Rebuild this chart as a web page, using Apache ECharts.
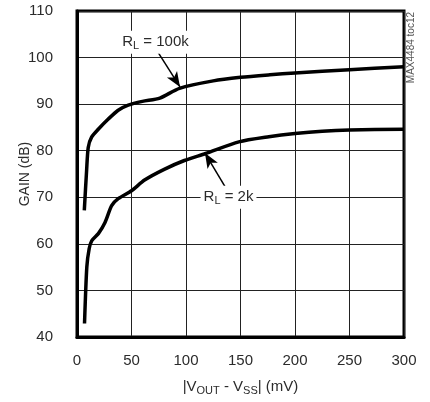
<!DOCTYPE html>
<html>
<head>
<meta charset="utf-8">
<script src="https://cdn.jsdelivr.net/npm/echarts@6/dist/echarts.min.js"></script>
<style>
  html, body { margin: 0; padding: 0; background: #fff; }
  #chart { width: 430px; height: 402px; }
</style>
</head>
<body>
<div id="chart"></div>
<script>
// Gain vs. output headroom, two load resistances
const rl100kX = [6.7, 8.8, 10.3, 13.4, 19.5, 28.7, 37.8, 47, 60, 76, 94, 125, 150, 177, 200, 250, 300];
const rl100kY = [67.2, 75.7, 80.7, 82.9, 84.6, 86.8, 88.7, 89.8, 90.6, 91.3, 93.4, 95.0, 95.75, 96.3, 96.7, 97.4, 98.05];

const rl2kX = [6.9, 9, 11.2, 13.6, 19.6, 25.7, 31.8, 37.8, 50, 62, 80, 98.5, 118, 148.5, 176, 200, 225, 250, 300];
const rl2kY = [42.9, 55.0, 59.0, 60.7, 62.2, 64.6, 68.2, 69.7, 71.4, 73.7, 76.0, 77.9, 79.4, 81.9, 83.0, 83.7, 84.2, 84.45, 84.6];

const xTicks = [0, 50, 100, 150, 200, 250, 300];
const yTicks = [40, 50, 60, 70, 80, 90, 100, 110];

// Callout positions (data units): label centre, arrow tail, arrow tip
const label100k = [72, 103.3];
const arrow100k = [[72.5, 101.8], [94.5, 93.7]];
const label2k = [139, 70];
const arrow2k = [[137.6, 71.6], [117.4, 79.5]];

const FONT = "'Liberation Sans', Arial, 'DejaVu Sans', sans-serif";
const TXT = '#2b2b2b';

function zip(xs, ys) { return xs.map((x, i) => [x, ys[i]]); }

function ts(size, extra) {
  return Object.assign({ fontFamily: FONT, fontSize: size, color: TXT }, extra || {});
}

const subRich = {
  n: ts(15),
  s: ts(11, { padding: [8, 0, 0, 0] })
};

const chart = echarts.init(document.getElementById('chart'), null, { renderer: 'canvas' });

chart.setOption({
  animation: false,
  backgroundColor: '#fff',
  textStyle: { fontFamily: FONT },
  grid: {
    left: 77, right: 26, top: 11, bottom: 65,
    show: true, borderColor: '#000', borderWidth: 3, backgroundColor: 'transparent'
  },
  xAxis: {
    type: 'value', min: xTicks[0], max: xTicks[xTicks.length - 1], interval: 50,
    axisLine: { show: true, lineStyle: { color: '#000', width: 3 } },
    axisTick: { show: false },
    axisLabel: Object.assign(ts(15), { margin: 16 }),
    splitLine: { show: true, lineStyle: { color: '#222', width: 1 } },
    name: '|V{s|OUT} - V{s|SS}| (mV)',
    nameLocation: 'middle', nameGap: 40, nameMoveOverlap: false,
    nameTextStyle: ts(15, {
      rich: { s: ts(11, { padding: [8, 0, 0, 0] }) }
    })
  },
  yAxis: {
    type: 'value', min: yTicks[0], max: yTicks[yTicks.length - 1], interval: 10,
    axisLine: { show: true, lineStyle: { color: '#000', width: 3 } },
    axisTick: { show: false },
    axisLabel: Object.assign(ts(15), { margin: 24 }),
    splitLine: { show: true, lineStyle: { color: '#222', width: 1 } },
    name: 'GAIN (dB)',
    nameLocation: 'middle', nameGap: 45, nameMoveOverlap: false,
    nameTextStyle: ts(14)
  },
  graphic: [{
    type: 'text',
    rotation: Math.PI / 2,
    x: 406, y: 12,
    style: {
      text: 'MAX4484 toc12',
      font: '10px ' + FONT,
      fill: '#555',
      textAlign: 'right',
      textVerticalAlign: 'top'
    }
  }],
  series: [
    {
      name: 'RL = 100k', type: 'line', data: zip(rl100kX, rl100kY),
      smooth: 0.25, showSymbol: false,
      lineStyle: { color: '#000', width: 3.5 },
      markLine: {
        silent: true, symbol: ['none', 'arrow'], symbolSize: [9, 15],
        lineStyle: { color: '#000', width: 1.5, type: 'solid' },
        label: { show: false },
        data: [[{ coord: arrow100k[0] }, { coord: arrow100k[1] }]]
      },
      markPoint: {
        silent: true, symbol: 'rect', symbolSize: 0,
        label: {
          show: true, position: 'inside',
          formatter: '{n|R}{s|L}{n| = 100k}',
          backgroundColor: '#fff', padding: [2, 3, 2, 3],
          rich: subRich
        },
        data: [{ coord: label100k }]
      }
    },
    {
      name: 'RL = 2k', type: 'line', data: zip(rl2kX, rl2kY),
      smooth: 0.25, showSymbol: false,
      lineStyle: { color: '#000', width: 3.5 },
      markLine: {
        silent: true, symbol: ['none', 'arrow'], symbolSize: [9, 15],
        lineStyle: { color: '#000', width: 1.5, type: 'solid' },
        label: { show: false },
        data: [[{ coord: arrow2k[0] }, { coord: arrow2k[1] }]]
      },
      markPoint: {
        silent: true, symbol: 'rect', symbolSize: 0,
        label: {
          show: true, position: 'inside',
          formatter: '{n|R}{s|L}{n| = 2k}',
          backgroundColor: '#fff', padding: [2, 3, 2, 3],
          rich: subRich
        },
        data: [{ coord: label2k }]
      }
    }
  ]
});
</script>
</body>
</html>
